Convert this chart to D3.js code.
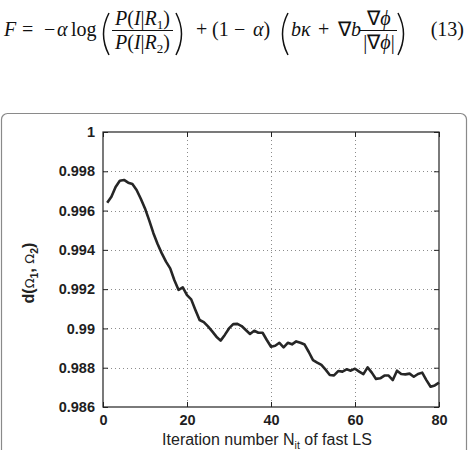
<!DOCTYPE html>
<html>
<head>
<meta charset="utf-8">
<script src="https://cdn.jsdelivr.net/npm/d3@7"></script>
<style>
  body { margin: 0; background: #fff; }
  svg { display: block; }
</style>
</head>
<body>
<div id="chart"></div>
<script>
// Distance between regions vs. iteration number of fast LS
const iterations = [1,2,3,4,5,6,7,8,9,10,11,12,13,14,15,16,17,18,19,20,
  21,22,23,24,25,26,27,28,29,30,31,32,33,34,35,36,37,38,39,40,
  41,42,43,44,45,46,47,48,49,50,51,52,53,54,55,56,57,58,59,60,
  61,62,63,64,65,66,67,68,69,70,71,72,73,74,75,76,77,78,79,80];
const distance = [0.9964,0.9967,0.9972,0.99752,0.99756,0.99742,0.99735,0.99705,0.9966,0.99611,
  0.9955,0.99485,0.9943,0.99382,0.9934,0.99306,0.99245,0.99196,0.99209,0.9917,
  0.99148,0.99094,0.99043,0.99032,0.9901,0.98985,0.98958,0.98938,0.98967,0.99,
  0.99022,0.99023,0.99012,0.98992,0.98972,0.98988,0.98978,0.98978,0.98941,0.98907,
  0.98912,0.98927,0.98904,0.98927,0.98919,0.98934,0.98927,0.98918,0.9888,0.98839,
  0.98826,0.98814,0.9879,0.98763,0.98761,0.98783,0.9878,0.98792,0.98785,0.98795,
  0.9878,0.98767,0.98802,0.98775,0.98743,0.98746,0.9876,0.9876,0.98737,0.98785,
  0.98768,0.98766,0.9877,0.98754,0.98768,0.98775,0.98737,0.98703,0.9871,0.98724];
const xTicks = [0, 20, 40, 60, 80];
const yTicks = [0.986, 0.988, 0.99, 0.992, 0.994, 0.996, 0.998, 1];

const width = 472, height = 450;
const plot = { left: 103, right: 439, top: 132, bottom: 407 };

const svg = d3.select('#chart').append('svg')
  .attr('width', width).attr('height', height);

/* Equation above the figure */
function drawEquation () {
  let eq = svg.append('g')
    .attr('font-family', "'Liberation Serif', 'Times New Roman', serif")
    .attr('font-size', 20)
    .attr('fill', '#111');

  // place a run of [text, italic, size, dy] pieces starting at x
  let run = (x, y, parts, anchor) => {
    let t = eq.append('text').attr('x', x).attr('y', y)
      .attr('text-anchor', anchor || 'start');
    parts.forEach(p => {
      let s = t.append('tspan').text(p[0]);
      if (p[1]) s.attr('font-style', 'italic');
      if (p[2]) s.attr('font-size', p[2]);
      if (p[3]) s.attr('dy', p[3]);
    });
    return t;
  };

  let paren = (x, y0, y1, dir) => {
    let ym = (y0 + y1) / 2;
    eq.append('path')
      .attr('d', 'M' + x + ',' + y0 + ' Q' + (x - dir * 11) + ',' + ym + ' ' + x + ',' + y1)
      .attr('fill', 'none').attr('stroke', '#111').attr('stroke-width', 1.5);
  };

  let bar = (x1, x2) => eq.append('line')
    .attr('x1', x1).attr('x2', x2).attr('y1', 30.5).attr('y2', 30.5)
    .attr('stroke', '#111').attr('stroke-width', 1);

  const base = 36;
  run(4, base, [['F', true]]);
  run(22, base, [['=']]);
  run(44, base, [['\u2212']]);
  run(57, base, [['\u03b1', true]]);
  run(71, base, [['log']]);
  paren(109, 13, 55, 1);
  bar(112, 173);
  run(142.5, 25, [['P', true], ['('], ['I', true], ['|'], ['R', true],
    ['1', false, 13, 4], [')', false, null, -4]], 'middle');
  run(142.5, 49, [['P', true], ['('], ['I', true], ['|'], ['R', true],
    ['2', false, 13, 4], [')', false, null, -4]], 'middle');
  paren(176, 13, 55, -1);

  run(196, base, [['+']]);
  run(212, base, [['(1']]);
  run(234, base, [['\u2212']]);
  run(253, base, [['\u03b1', true], [')']]);
  paren(288, 13, 55, 1);
  run(291, base, [['b\u03ba', true]]);
  run(318, base, [['+']]);
  run(338, base, [['\u2207'], ['b', true]]);
  bar(360, 397);
  run(379, 25, [['\u2207'], ['\u03d5', true]], 'middle');
  run(379, 49, [['|\u2207'], ['\u03d5', true], ['|']], 'middle');
  paren(398, 13, 55, -1);
  run(464, base, [['(13)']], 'end');
}

drawEquation();

// Figure frame
svg.append('rect')
  .attr('x', 1.5).attr('y', 113.5)
  .attr('width', 465).attr('height', 400)
  .attr('rx', 6).attr('ry', 6)
  .attr('fill', 'none').attr('stroke', '#8a8a8a').attr('stroke-width', 1.2);

const x = d3.scaleLinear().domain([0, 80]).range([plot.left, plot.right]);
const y = d3.scaleLinear().domain([0.986, 1]).range([plot.bottom, plot.top]);

// Grid
const grid = svg.append('g')
  .attr('stroke', '#8c8c8c').attr('stroke-width', 1)
  .attr('stroke-dasharray', '1,3');
grid.selectAll('.vgrid')
  .data(xTicks.slice(1, -1))
  .enter().append('line')
  .attr('x1', d => Math.round(x(d)) + 0.5).attr('x2', d => Math.round(x(d)) + 0.5)
  .attr('y1', plot.top).attr('y2', plot.bottom);
grid.selectAll('.hgrid')
  .data(yTicks.slice(1, -1))
  .enter().append('line')
  .attr('x1', plot.left).attr('x2', plot.right)
  .attr('y1', d => Math.round(y(d)) + 0.5).attr('y2', d => Math.round(y(d)) + 0.5);

// Axes (ticks inward on all sides)
const tickFont = "'Liberation Sans', Arial, sans-serif";
const styleAxis = (g) => {
  g.select('.domain').remove();
  g.selectAll('line').attr('stroke', '#222');
  g.selectAll('text')
    .attr('font-family', tickFont).attr('font-weight', 'bold')
    .attr('font-size', 14.5).attr('fill', '#1e1e1e');
};

svg.append('g')
  .attr('transform', 'translate(0,' + plot.bottom + ')')
  .call(d3.axisBottom(x).tickValues(xTicks).tickSizeInner(-5).tickSizeOuter(0)
    .tickPadding(8).tickFormat(d3.format('d')))
  .call(styleAxis);
svg.append('g')
  .attr('transform', 'translate(' + plot.left + ',0)')
  .call(d3.axisLeft(y).tickValues(yTicks).tickSizeInner(-5).tickSizeOuter(0)
    .tickPadding(8).tickFormat(d => String(+d.toFixed(3))))
  .call(styleAxis);
svg.append('g')
  .attr('transform', 'translate(0,' + plot.top + ')')
  .call(d3.axisTop(x).tickValues(xTicks).tickSizeInner(-5).tickSizeOuter(0).tickFormat(''))
  .call(styleAxis);
svg.append('g')
  .attr('transform', 'translate(' + plot.right + ',0)')
  .call(d3.axisRight(y).tickValues(yTicks).tickSizeInner(-5).tickSizeOuter(0).tickFormat(''))
  .call(styleAxis);

svg.append('rect')
  .attr('x', plot.left).attr('y', plot.top)
  .attr('width', plot.right - plot.left).attr('height', plot.bottom - plot.top)
  .attr('fill', 'none').attr('stroke', '#222').attr('stroke-width', 1.2);

// Series line
const points = iterations.map((it, i) => [it, distance[i]]);
svg.append('path')
  .datum(points)
  .attr('d', d3.line().x(d => x(d[0])).y(d => y(d[1])))
  .attr('fill', 'none').attr('stroke', '#262626')
  .attr('stroke-width', 2.6).attr('stroke-linejoin', 'round');

// Axis titles
const xTitle = svg.append('text')
  .attr('x', (plot.left + plot.right) / 2 - 4).attr('y', 445)
  .attr('text-anchor', 'middle')
  .attr('font-family', tickFont).attr('font-size', 16).attr('fill', '#222');
xTitle.append('tspan').text('Iteration number N');
xTitle.append('tspan').attr('font-size', 10.5).attr('dy', 4).text('it');
xTitle.append('tspan').attr('dy', -4).text(' of fast LS');

const yTitle = svg.append('text')
  .attr('transform', 'translate(34,273) rotate(-90)')
  .attr('text-anchor', 'middle')
  .attr('font-family', tickFont).attr('font-size', 16).attr('fill', '#222');
yTitle.append('tspan').attr('font-weight', 'bold').text('d(');
yTitle.append('tspan').attr('font-family', "'DejaVu Sans', sans-serif").attr('font-size', 13).text('\u03a9');
yTitle.append('tspan').attr('font-weight', 'bold').attr('font-size', 10.5).attr('dy', 4).text('1');
yTitle.append('tspan').attr('font-weight', 'bold').attr('dy', -4).text(', ');
yTitle.append('tspan').attr('font-family', "'DejaVu Sans', sans-serif").attr('font-size', 13).text('\u03a9');
yTitle.append('tspan').attr('font-weight', 'bold').attr('font-size', 10.5).attr('dy', 4).text('2');
yTitle.append('tspan').attr('font-weight', 'bold').attr('dy', -4).text(')');
</script>
</body>
</html>
